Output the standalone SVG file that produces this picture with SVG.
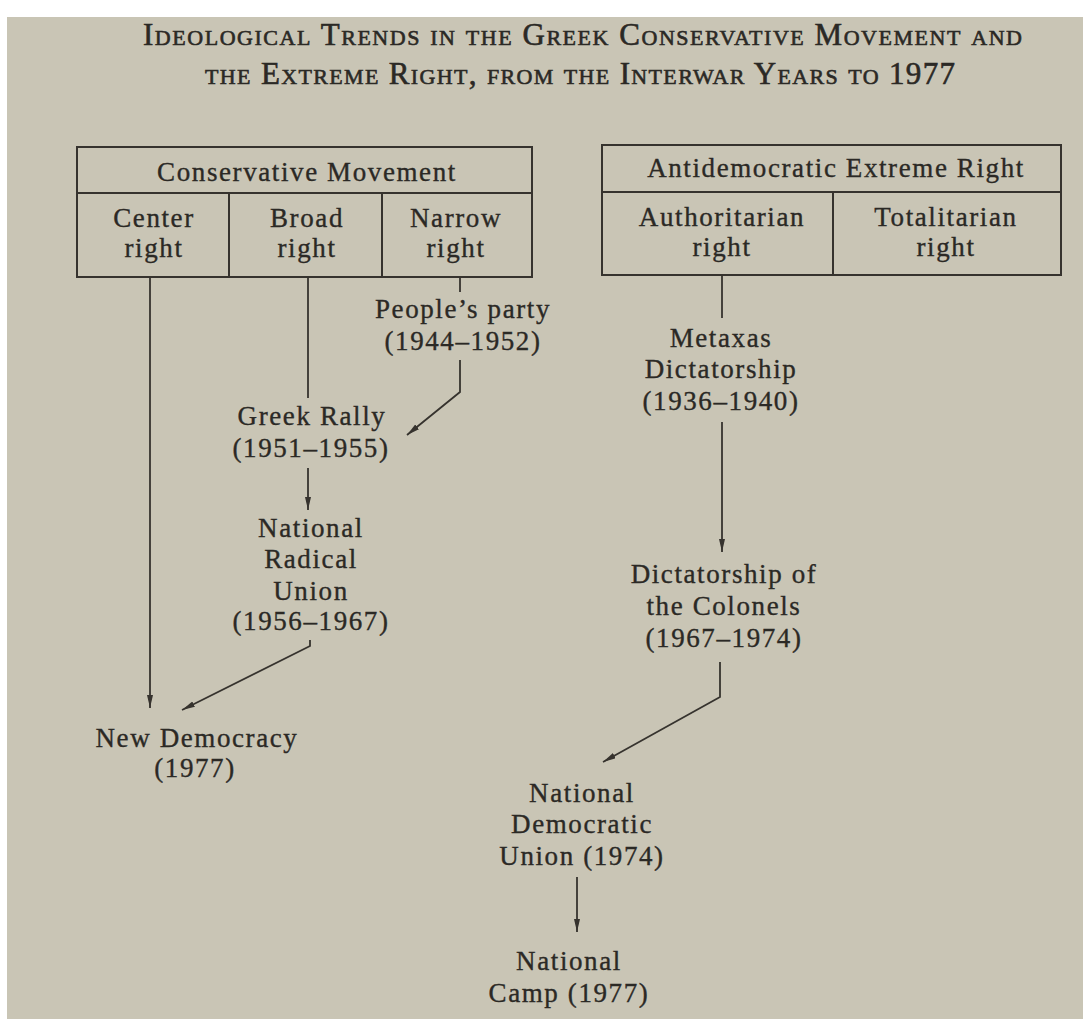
<svg xmlns="http://www.w3.org/2000/svg" width="1083" height="1019" viewBox="0 0 1083 1019">
  <style>
    .t { font-family: "Liberation Serif", "Times New Roman", serif; font-size: 27px; fill: #2b2925; stroke: #2b2925; stroke-width: 0.35px; text-anchor: middle; letter-spacing: 1.6px; }
    .title { font-family: "Liberation Serif", "Times New Roman", serif; font-size: 31px; fill: #2b2925; stroke: #2b2925; stroke-width: 0.6px; font-variant: small-caps; }
    .box { fill: none; stroke: #36332e; stroke-width: 2; }
    .c { fill: none; stroke: #36332e; stroke-width: 1.8; }
  </style>
  <defs>
    <marker id="ah" markerUnits="userSpaceOnUse" markerWidth="14" markerHeight="8" refX="13" refY="3" orient="auto">
      <path d="M0,0 L13,3 L0,6 z" fill="#36332e"/>
    </marker>
  </defs>
  <rect x="0" y="0" width="1083" height="1019" fill="#ffffff"/>
  <rect x="7" y="17" width="1076" height="1002" fill="#c9c5b5"/>

  <g id="title">
    <text class="title" x="143" y="45" textLength="879" lengthAdjust="spacing">Ideological Trends in the Greek Conservative Movement and</text>
    <text class="title" x="205" y="84" textLength="750" lengthAdjust="spacing">the Extreme Right, from the Interwar Years to 1977</text>
  </g>

  <g id="conservative-movement">
    <rect class="box" x="77" y="147" width="455" height="130"/>
    <line class="box" x1="77" y1="193" x2="532" y2="193"/>
    <line class="box" x1="229" y1="193" x2="229" y2="277"/>
    <line class="box" x1="382" y1="193" x2="382" y2="277"/>
    <text class="t" x="307" y="181">Conservative Movement</text>
  </g>
  <g id="center-right">
    <text class="t" x="154" y="227">Center</text>
    <text class="t" x="154" y="257">right</text>
  </g>
  <g id="broad-right">
    <text class="t" x="307" y="227">Broad</text>
    <text class="t" x="307" y="257">right</text>
  </g>
  <g id="narrow-right">
    <text class="t" x="456" y="227">Narrow</text>
    <text class="t" x="456" y="257">right</text>
  </g>

  <g id="extreme-right">
    <rect class="box" x="602" y="145" width="459" height="130"/>
    <line class="box" x1="602" y1="192" x2="1061" y2="192"/>
    <line class="box" x1="833" y1="192" x2="833" y2="275"/>
    <text class="t" x="836" y="177">Antidemocratic Extreme Right</text>
  </g>
  <g id="authoritarian-right">
    <text class="t" x="722" y="226">Authoritarian</text>
    <text class="t" x="722" y="256">right</text>
  </g>
  <g id="totalitarian-right">
    <text class="t" x="946" y="226">Totalitarian</text>
    <text class="t" x="946" y="256">right</text>
  </g>

  <g id="peoples-party">
    <text class="t" x="463" y="318">People’s party</text>
    <text class="t" x="463" y="350">(1944–1952)</text>
  </g>
  <g id="greek-rally">
    <text class="t" x="312" y="425">Greek Rally</text>
    <text class="t" x="311" y="457">(1951–1955)</text>
  </g>
  <g id="national-radical-union">
    <text class="t" x="311" y="537">National</text>
    <text class="t" x="311" y="568">Radical</text>
    <text class="t" x="311" y="600">Union</text>
    <text class="t" x="311" y="630">(1956–1967)</text>
  </g>
  <g id="new-democracy">
    <text class="t" x="197" y="747">New Democracy</text>
    <text class="t" x="195" y="777">(1977)</text>
  </g>
  <g id="metaxas">
    <text class="t" x="721" y="347">Metaxas</text>
    <text class="t" x="721" y="378">Dictatorship</text>
    <text class="t" x="721" y="410">(1936–1940)</text>
  </g>
  <g id="colonels">
    <text class="t" x="724" y="583">Dictatorship of</text>
    <text class="t" x="724" y="615">the Colonels</text>
    <text class="t" x="724" y="647">(1967–1974)</text>
  </g>
  <g id="national-democratic-union">
    <text class="t" x="582" y="802">National</text>
    <text class="t" x="582" y="833">Democratic</text>
    <text class="t" x="582" y="865">Union (1974)</text>
  </g>
  <g id="national-camp">
    <text class="t" x="569" y="970">National</text>
    <text class="t" x="569" y="1002">Camp (1977)</text>
  </g>

  <g id="connectors">
    <path class="c" d="M150,277 V708" marker-end="url(#ah)"/>
    <path class="c" d="M308,277 V398"/>
    <path class="c" d="M460,277 V292"/>
    <path class="c" d="M460,360 V392 L407,435" marker-end="url(#ah)"/>
    <path class="c" d="M308,468 V510" marker-end="url(#ah)"/>
    <path class="c" d="M310,640 V646 L182,710" marker-end="url(#ah)"/>
    <path class="c" d="M722,275 V318"/>
    <path class="c" d="M722,422 V552" marker-end="url(#ah)"/>
    <path class="c" d="M720,662 V697 L603,762" marker-end="url(#ah)"/>
    <path class="c" d="M577,877 V932" marker-end="url(#ah)"/>
  </g>
</svg>
